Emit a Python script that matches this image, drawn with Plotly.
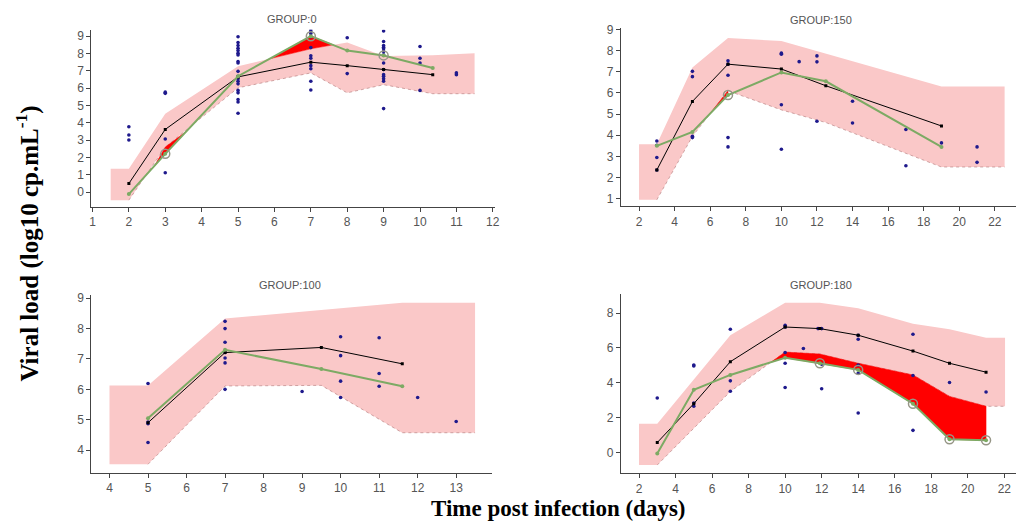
import plotly.graph_objects as go

# ---------------- DATA ----------------
# GROUP:0
g0_bins = [2, 3, 5, 7, 8, 9, 10.35]
g0_pred = [0.5, 3.62, 6.65, 7.5, 7.3, 7.07, 6.78]
g0_obs = [-0.11, 2.21, 6.69, 9.0, 8.17, 7.89, 7.16]
g0_flag = [0, 1, 0, 1, 0, 1, 0]
g0_band_x = [1.5, 2, 3, 5, 7, 8, 9, 10.35, 11.5]
g0_band_hi = [1.35, 1.35, 4.53, 7.26, 8.27, 8.63, 7.85, 7.9, 8.02]
g0_band_lo = [-0.46, -0.46, 2.6, 6.02, 6.88, 5.73, 6.2, 5.68, 5.68]
g0_red_a_x = [2.7, 3.0, 3.6]
g0_red_a_top = [1.51, 2.6, 3.55]
g0_red_a_bot = [1.51, 2.21, 3.55]
g0_red_b_x = [5.92, 7.0, 7.62]
g0_red_b_top = [7.72, 9.0, 8.5]
g0_red_b_bot = [7.72, 8.27, 8.5]
g0_days = [2, 3, 5, 7, 8, 9, 10, 11]
g0_vals = [
    [3.77, 3.30, 3.01],
    [5.77, 5.70, 3.07, 1.12],
    [8.97, 8.63, 8.46, 8.30, 8.17, 8.02, 7.92, 7.54, 7.45, 6.97, 6.69, 6.55,
     6.40, 6.25, 5.87, 5.73, 5.35, 5.20, 4.55],
    [9.41, 9.30, 9.16, 8.97, 8.34, 7.87, 7.73, 7.30, 7.12, 6.40, 5.89],
    [8.91, 6.84],
    [9.30, 8.69, 8.46, 8.36, 8.27, 8.11, 7.92, 7.45, 7.07, 6.78, 6.69, 6.55,
     6.40, 4.82],
    [8.40, 7.73, 7.45, 5.87],
    [6.88, 6.78],
]

# GROUP:150
g150_bins = [3, 5, 7, 10, 12.5, 19]
g150_pred = [2.36, 5.6, 7.36, 7.13, 6.34, 4.44]
g150_obs = [3.5, 4.16, 5.9, 6.97, 6.55, 3.45]
g150_flag = [0, 0, 1, 0, 0, 0]
g150_band_x = [2, 3, 5, 7, 10, 12.5, 19, 22.55]
g150_band_hi = [3.58, 3.58, 7.2, 8.6, 8.45, 7.85, 6.3, 6.3]
g150_band_lo = [0.95, 0.95, 3.95, 6.1, 5.2, 4.6, 2.5, 2.5]
g150_red_x = [5.98, 7.0]
g150_red_top = [5.02, 6.1]
g150_red_bot = [5.02, 5.9]
g150_days = [3, 5, 7, 10, 11, 12, 14, 17, 19, 21]
g150_vals = [
    [3.73, 3.53, 2.95, 2.36],
    [7.02, 6.77, 3.95, 3.89],
    [7.52, 7.36, 6.84, 3.89, 3.45],
    [7.88, 7.83, 5.44, 3.34],
    [7.48],
    [7.75, 7.47, 4.66],
    [5.61, 4.58],
    [4.27, 2.56],
    [3.64],
    [3.45, 2.72],
]

# GROUP:100
g100_bins = [5, 7, 9.5, 11.6]
g100_pred = [4.9, 7.21, 7.38, 6.84]
g100_obs = [5.05, 7.3, 6.67, 6.1]
g100_flag = [0, 0, 0, 0]
g100_band_x = [4, 5, 7, 9.5, 11.6, 13.49]
g100_band_hi = [6.13, 6.13, 8.33, 8.62, 8.85, 8.85]
g100_band_lo = [3.53, 3.53, 6.11, 6.13, 4.57, 4.57]
g100_days = [5, 7, 9, 10, 11, 12, 13]
g100_vals = [
    [6.19, 4.92, 4.87, 4.25],
    [8.24, 8.0, 7.55, 7.21, 7.03, 6.87, 6.0],
    [5.93],
    [7.73, 7.11, 6.27, 5.73],
    [7.70, 6.52, 6.1],
    [5.73],
    [4.94],
]

# GROUP:180
g180_bins = [3, 5, 7, 10, 11.9, 14, 17, 19, 21]
g180_pred = [0.57, 2.8, 5.21, 7.2, 7.11, 6.73, 5.82, 5.12, 4.61]
g180_obs = [-0.06, 3.6, 4.45, 5.44, 5.12, 4.74, 2.8, 0.76, 0.70]
g180_flag = [0, 0, 0, 0, 1, 1, 1, 1, 1]
g180_band_x = [2, 3, 5, 7, 10, 11.9, 14, 17, 19, 21, 22.04]
g180_band_hi = [1.65, 1.65, 4.19, 6.73, 8.59, 8.59, 8.28, 7.39, 7.07, 6.58, 6.58]
g180_band_lo = [-0.72, -0.72, 1.39, 3.5, 5.76, 5.65, 5.12, 4.45, 3.22, 2.65, 2.65]
g180_red_x = [9.24, 10, 11.9, 14, 17, 19, 21]
g180_red_top = [5.19, 5.76, 5.65, 5.12, 4.45, 3.22, 2.65]
g180_red_bot = [5.19, 5.44, 5.12, 4.74, 2.8, 0.76, 0.70]
g180_days = [3, 5, 7, 10, 11, 11.8, 12, 14, 17, 19, 21]
g180_vals = [
    [3.13],
    [5.02, 4.97, 2.84, 2.65],
    [7.07, 4.11, 3.51],
    [7.3, 7.2, 5.74, 5.12, 3.73],
    [5.97],
    [7.11],
    [7.11, 5.06, 3.66],
    [6.73, 6.5, 5.02, 4.55, 2.27],
    [6.79, 4.42, 1.27],
    [4.02],
    [3.47],
]

titles = ["GROUP:0", "GROUP:150", "GROUP:100", "GROUP:180"]

# ---------------- STYLE ----------------
W, H = 1022, 526
PINK = "rgb(250,200,200)"
RED = "rgb(255,0,0)"
GREEN = "rgb(125,170,100)"
NAVY = "rgb(30,25,140)"
FONT = "Liberation Sans, Arial, sans-serif"

panels = [
    dict(bins=g0_bins, pred=g0_pred, obs=g0_obs, flag=g0_flag,
         bx=g0_band_x, bhi=g0_band_hi, blo=g0_band_lo,
         reds=[(g0_red_a_x, g0_red_a_top, g0_red_a_bot),
               (g0_red_b_x, g0_red_b_top, g0_red_b_bot)],
         days=g0_days, vals=g0_vals,
         px=(90, 496), py=(25, 204), xr=[0.97, 12.05], yr=[-0.86, 9.37],
         xt=list(range(1, 13)), yt=list(range(0, 10))),
    dict(bins=g150_bins, pred=g150_pred, obs=g150_obs, flag=g150_flag,
         bx=g150_band_x, bhi=g150_band_hi, blo=g150_band_lo,
         reds=[(g150_red_x, g150_red_top, g150_red_bot)],
         days=g150_days, vals=g150_vals,
         px=(623, 1021), py=(23, 203.3), xr=[0.97, 23.19], yr=[0.64, 9.08],
         xt=list(range(2, 23, 2)), yt=list(range(1, 10))),
    dict(bins=g100_bins, pred=g100_pred, obs=g100_obs, flag=g100_flag,
         bx=g100_band_x, bhi=g100_band_hi, blo=g100_band_lo,
         reds=[],
         days=g100_days, vals=g100_vals,
         px=(90, 493), py=(292.7, 472.3), xr=[3.53, 13.92], yr=[3.25, 9.11],
         xt=list(range(4, 14)), yt=list(range(4, 10))),
    dict(bins=g180_bins, pred=g180_pred, obs=g180_obs, flag=g180_flag,
         bx=g180_band_x, bhi=g180_band_hi, blo=g180_band_lo,
         reds=[(g180_red_x, g180_red_top, g180_red_bot)],
         days=g180_days, vals=g180_vals,
         px=(623, 1021), py=(291.7, 472.7), xr=[1.0, 22.64], yr=[-1.19, 9.1],
         xt=list(range(2, 23, 2)), yt=list(range(0, 9, 2))),
]

fig = go.Figure()
layout = dict(
    width=W, height=H, margin=dict(l=0, r=0, t=0, b=0),
    paper_bgcolor="white", plot_bgcolor="white", showlegend=False,
    font=dict(family=FONT, size=12, color="#555"),
)
annotations = []

for i, p in enumerate(panels, start=1):
    sx = "" if i == 1 else str(i)
    xa, ya = "x" + sx, "y" + sx

    # prediction band
    fig.add_trace(go.Scatter(
        x=p["bx"] + p["bx"][::-1], y=p["bhi"] + p["blo"][::-1],
        fill="toself", fillcolor=PINK, line=dict(width=0), mode="lines",
        hoverinfo="skip", xaxis=xa, yaxis=ya))
    # dotted lower edge
    fig.add_trace(go.Scatter(
        x=p["bx"][1:], y=p["blo"][1:], mode="lines",
        line=dict(color="rgba(170,110,110,0.55)", width=1, dash="dot"),
        hoverinfo="skip", xaxis=xa, yaxis=ya))
    # red outlier regions
    for rx, rtop, rbot in p["reds"]:
        fig.add_trace(go.Scatter(
            x=rx + rx[::-1], y=rtop + rbot[::-1], fill="toself",
            fillcolor=RED, line=dict(width=0.5, color=RED), mode="lines",
            hoverinfo="skip", xaxis=xa, yaxis=ya))
    # observations
    ox, oy = [], []
    for d, vs in zip(p["days"], p["vals"]):
        for v in vs:
            ox.append(d)
            oy.append(v)
    fig.add_trace(go.Scatter(
        x=ox, y=oy, mode="markers",
        marker=dict(symbol="circle", size=3.6, color=NAVY),
        xaxis=xa, yaxis=ya))
    # predicted median
    fig.add_trace(go.Scatter(
        x=p["bins"], y=p["pred"], mode="lines+markers",
        line=dict(color="black", width=1),
        marker=dict(symbol="square", size=3, color="black"),
        xaxis=xa, yaxis=ya))
    # observed median
    fig.add_trace(go.Scatter(
        x=p["bins"], y=p["obs"], mode="lines+markers",
        line=dict(color=GREEN, width=2),
        marker=dict(symbol="circle", size=4, color=GREEN),
        xaxis=xa, yaxis=ya))
    # outlier circles
    fx = [b for b, f in zip(p["bins"], p["flag"]) if f]
    fy = [o for o, f in zip(p["obs"], p["flag"]) if f]
    if fx:
        fig.add_trace(go.Scatter(
            x=fx, y=fy, mode="markers",
            marker=dict(symbol="circle-open", size=9,
                        color="rgb(150,150,135)", line=dict(width=1.5)),
            xaxis=xa, yaxis=ya))

    x0, x1 = p["px"]
    y0, y1 = p["py"]
    axis_common = dict(showgrid=False, zeroline=False, showline=True,
                       linecolor="#444", linewidth=1, ticks="outside",
                       ticklen=4, tickcolor="#444",
                       tickfont=dict(family=FONT, size=12, color="#555"))
    layout["xaxis" + sx] = dict(axis_common, domain=[x0 / W, x1 / W],
                                range=p["xr"], tickvals=p["xt"], anchor=ya)
    layout["yaxis" + sx] = dict(axis_common, domain=[1 - y1 / H, 1 - y0 / H],
                                range=p["yr"], tickvals=p["yt"], anchor=xa)

title_pos = [(292, 14), (825, 15), (290, 283), (825, 283)]
for t, (tx, ty) in zip(titles, title_pos):
    annotations.append(dict(text=t, x=tx / W, y=1 - ty / H, xref="paper",
                            yref="paper", showarrow=False,
                            font=dict(family=FONT, size=11, color="#555"),
                            xanchor="center", yanchor="middle"))

annotations.append(dict(
    text="<b>Viral load (log10 cp.mL<sup>-1</sup>)</b>", x=26 / W, y=1 - 241 / H,
    xref="paper", yref="paper", showarrow=False, textangle=-90,
    font=dict(family="Liberation Serif, Times New Roman, serif", size=25,
              color="black"),
    xanchor="center", yanchor="middle"))
annotations.append(dict(
    text="<b>Time post infection (days)</b>", x=560 / W, y=1 - 508 / H,
    xref="paper", yref="paper", showarrow=False,
    font=dict(family="Liberation Serif, Times New Roman, serif", size=23,
              color="black"),
    xanchor="center", yanchor="middle"))

layout["annotations"] = annotations
fig.update_layout(**layout)
fig.write_html("out.html")
